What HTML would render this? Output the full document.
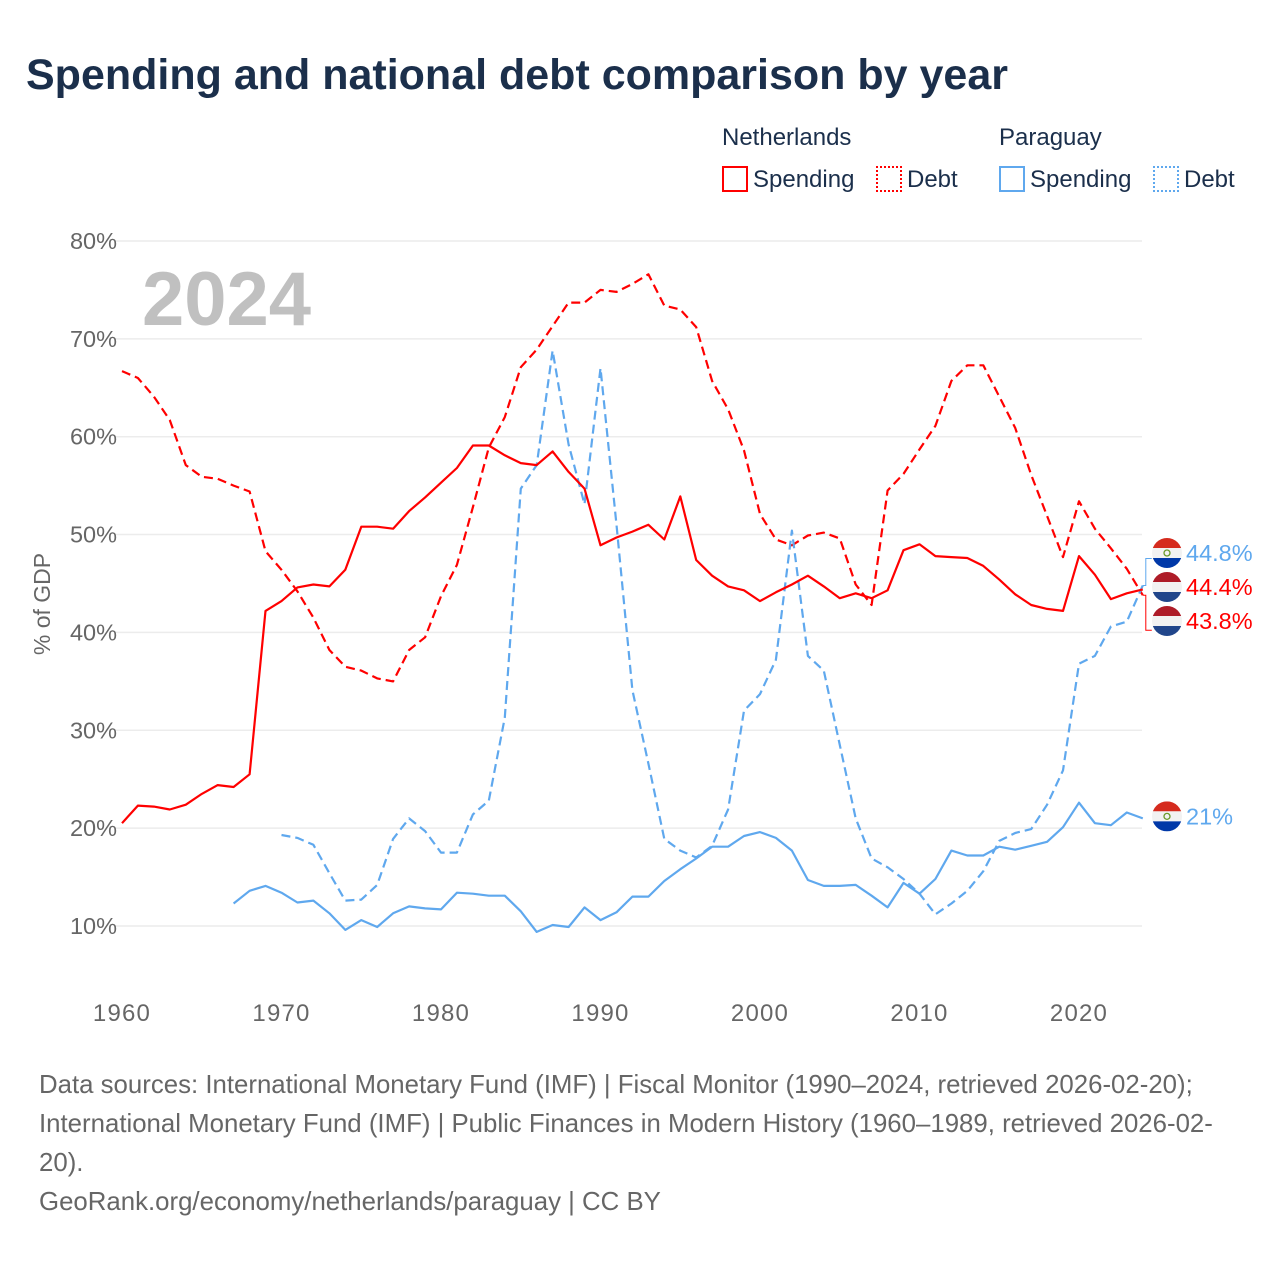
<!DOCTYPE html>
<html><head><meta charset="utf-8">
<style>
html,body{margin:0;padding:0;background:#fff;}
body{width:1280px;height:1280px;position:relative;overflow:hidden;font-family:"Liberation Sans",sans-serif;}
.t{position:absolute;white-space:nowrap;}
</style></head>
<body>
<div class="t" style="left:26px;top:51px;font-size:43px;font-weight:bold;color:#1b2f4b;letter-spacing:0px;">Spending and national debt comparison by year</div>

<div class="t" style="left:722px;top:124px;font-size:24px;color:#1b2f4b;">Netherlands</div>
<div class="t" style="left:999px;top:124px;font-size:24px;color:#1b2f4b;">Paraguay</div>
<div class="t" style="left:722px;top:166px;font-size:24px;color:#1b2f4b;"><span style="display:inline-block;width:26px;height:26px;border:2px solid #f00;box-sizing:border-box;vertical-align:-5px;margin-right:5px;"></span>Spending</div>
<div class="t" style="left:876px;top:166px;font-size:24px;color:#1b2f4b;"><span style="display:inline-block;width:26px;height:26px;border:2px dotted #f00;box-sizing:border-box;vertical-align:-5px;margin-right:5px;"></span>Debt</div>
<div class="t" style="left:999px;top:166px;font-size:24px;color:#1b2f4b;"><span style="display:inline-block;width:26px;height:26px;border:2px solid #5fa8ee;box-sizing:border-box;vertical-align:-5px;margin-right:5px;"></span>Spending</div>
<div class="t" style="left:1153px;top:166px;font-size:24px;color:#1b2f4b;"><span style="display:inline-block;width:26px;height:26px;border:2px dotted #5fa8ee;box-sizing:border-box;vertical-align:-5px;margin-right:5px;"></span>Debt</div>

<svg id="chart" width="1280" height="1280" style="position:absolute;left:0;top:0;" xmlns="http://www.w3.org/2000/svg"></svg>

<div class="t" style="left:39px;top:1066px;font-size:25.8px;line-height:39px;color:#666;">Data sources: International Monetary Fund (IMF) | Fiscal Monitor (1990–2024, retrieved 2026-02-20);<br>International Monetary Fund (IMF) | Public Finances in Modern History (1960–1989, retrieved 2026-02-<br>20).<br>GeoRank.org/economy/netherlands/paraguay | CC BY</div>

<script>
const years = [1960,1961,1962,1963,1964,1965,1966,1967,1968,1969,1970,1971,1972,1973,1974,1975,1976,1977,1978,1979,1980,1981,1982,1983,1984,1985,1986,1987,1988,1989,1990,1991,1992,1993,1994,1995,1996,1997,1998,1999,2000,2001,2002,2003,2004,2005,2006,2007,2008,2009,2010,2011,2012,2013,2014,2015,2016,2017,2018,2019,2020,2021,2022,2023,2024];
const nlSpending = [20.5,22.3,22.2,21.9,22.4,23.5,24.4,24.2,25.5,42.2,43.2,44.6,44.9,44.7,46.4,50.8,50.8,50.6,52.4,53.8,55.3,56.8,59.1,59.1,58.1,57.3,57.1,58.5,56.4,54.7,48.9,49.7,50.3,51.0,49.5,53.9,47.4,45.8,44.7,44.3,43.2,44.1,44.9,45.8,44.7,43.5,44.0,43.5,44.3,48.4,49.0,47.8,47.7,47.6,46.8,45.4,43.9,42.8,42.4,42.2,47.8,45.9,43.4,44.0,44.4];
const nlDebt = [66.7,66.0,64.1,61.7,57.1,55.9,55.7,55.0,54.4,48.3,46.4,44.2,41.5,38.2,36.5,36.1,35.3,35.0,38.2,39.5,43.7,46.9,52.8,58.9,62.0,67.1,68.9,71.3,73.7,73.7,75.0,74.8,75.6,76.6,73.4,73.0,71.2,65.7,62.8,58.6,52.1,49.5,48.9,49.9,50.2,49.6,44.9,42.8,54.5,56.2,58.7,61.1,65.7,67.3,67.3,64.1,60.9,56.1,51.9,47.7,53.4,50.6,48.6,46.5,43.8];
const pySpending = [null,null,null,null,null,null,null,12.3,13.6,14.1,13.4,12.4,12.6,11.3,9.6,10.6,9.9,11.3,12.0,11.8,11.7,13.4,13.3,13.1,13.1,11.5,9.4,10.1,9.9,11.9,10.6,11.4,13.0,13.0,14.6,15.8,16.9,18.1,18.1,19.2,19.6,19.0,17.7,14.7,14.1,14.1,14.2,13.1,11.9,14.4,13.3,14.8,17.7,17.2,17.2,18.1,17.8,18.2,18.6,20.1,22.6,20.5,20.3,21.6,21.0];
const pyDebt = [null,null,null,null,null,null,null,null,null,null,19.3,19.0,18.3,15.4,12.6,12.7,14.2,18.9,21.0,19.7,17.5,17.5,21.4,22.8,31.3,54.7,57.1,68.8,59.2,53.1,67.0,51.0,34.1,26.6,18.9,17.7,17.0,18.2,21.9,32.0,33.7,37.2,50.4,37.6,36.1,28.5,21.0,16.9,16.0,14.8,13.3,11.2,12.3,13.6,15.6,18.7,19.5,19.9,22.4,25.9,36.8,37.6,40.6,41.1,44.8];
const yTicks = [10,20,30,40,50,60,70,80];
const xTicks = [1960,1970,1980,1990,2000,2010,2020];
const endLabels = ["44.8%","44.4%","43.8%","21%"];

const NS="http://www.w3.org/2000/svg";
const svg=document.getElementById('chart');
const x=y=>122+(y-1960)*15.95;
const yv=v=>926-(v-10)*9.786;
function mk(tag,attrs,parent){const e=document.createElementNS(NS,tag);for(const k in attrs)e.setAttribute(k,attrs[k]);(parent||svg).appendChild(e);return e;}

yTicks.forEach(t=>{
  const g=mk('line',{x1:115,x2:1142,y1:yv(t),y2:yv(t),stroke:'#ececec','stroke-width':1.5});
  
  
  const tx=mk('text',{x:117,y:yv(t)+8,'text-anchor':'end','font-size':23.5,fill:'#666','font-family':'Liberation Sans, sans-serif'});
  tx.textContent=t+'%';
  
  
});
xTicks.forEach(t=>{
  const tx=mk('text',{x:x(t),y:1021,'text-anchor':'middle','font-size':24,'letter-spacing':1.2,fill:'#666','font-family':'Liberation Sans, sans-serif'});
  tx.textContent=t;
  
  
});
const yt=mk('text',{x:0,y:0,transform:'translate(50,604) rotate(-90)','text-anchor':'middle','font-size':23,fill:'#666','font-family':'Liberation Sans, sans-serif'});
yt.textContent='% of GDP';


const yr=mk('text',{x:142,y:325,'font-size':76,'font-weight':'bold',fill:'#c0c0c0','font-family':'Liberation Sans, sans-serif'});
yr.textContent='2024';



function series(arr,color,dash,name){
  let d='';let started=false;
  arr.forEach((v,i)=>{if(v==null)return;d+=(started?'L':'M')+x(years[i]).toFixed(1)+' '+yv(v).toFixed(1)+' ';started=true;});
  const p=mk('path',{d:d,fill:'none',stroke:color,'stroke-width':2.2,'stroke-linejoin':'round'});
  if(dash)p.setAttribute('stroke-dasharray','9 5');
  
  
}
series(nlDebt,'#ff0000',true,'nl-debt-line');
series(pyDebt,'#5fa8ee',true,'py-debt-line');
series(nlSpending,'#ff0000',false,'nl-spending-line');
series(pySpending,'#5fa8ee',false,'py-spending-line');

const last=years.length-1;
const lx=x(2024);
mk('path',{d:`M${lx} ${yv(pyDebt[last])} H${lx+3} V${yv(pyDebt[last])-27} H${lx+9}`,fill:'none',stroke:'#5fa8ee','stroke-width':1});
mk('path',{d:`M${lx} ${yv(nlDebt[last])} H${lx+3} V${yv(nlDebt[last])+35} H${lx+9}`,fill:'none',stroke:'#f00','stroke-width':1});
const items=[
  {cy:553,flag:'py',color:'#5fa8ee',txt:endLabels[0],name:'py-debt-end-label'},
  {cy:587,flag:'nl',color:'#f00',txt:endLabels[1],name:'nl-spending-end-label'},
  {cy:621,flag:'nl',color:'#f00',txt:endLabels[2],name:'nl-debt-end-label'},
  {cy:yv(pySpending[last])-2,flag:'py',color:'#5fa8ee',txt:endLabels[3],name:'py-spending-end-label'}
];
items.forEach((it,k)=>{
  const g=mk('g',{});
  
  
  const cid='c'+k;
  const cp=mk('clipPath',{id:cid},g);mk('circle',{cx:1167,cy:it.cy,r:15},cp);
  const top=it.flag==='py'?'#d52b1e':'#ae1c28';
  const bot=it.flag==='py'?'#0038a8':'#21468b';
  const gg=mk('g',{'clip-path':`url(#${cid})`},g);
  mk('rect',{x:1152,y:it.cy-15,width:30,height:10,fill:top},gg);
  mk('rect',{x:1152,y:it.cy-5,width:30,height:10,fill:'#f2f2f2'},gg);
  mk('rect',{x:1152,y:it.cy+5,width:30,height:10,fill:bot},gg);
  if(it.flag==='py')mk('circle',{cx:1167,cy:it.cy,r:3,fill:'none',stroke:'#6a9a2a','stroke-width':1.3},gg);
  const t=mk('text',{x:1186,y:it.cy+8,'font-size':23.5,fill:it.color,'font-family':'Liberation Sans, sans-serif'});
  t.textContent=it.txt;
  
  
});
</script>
</body></html>
